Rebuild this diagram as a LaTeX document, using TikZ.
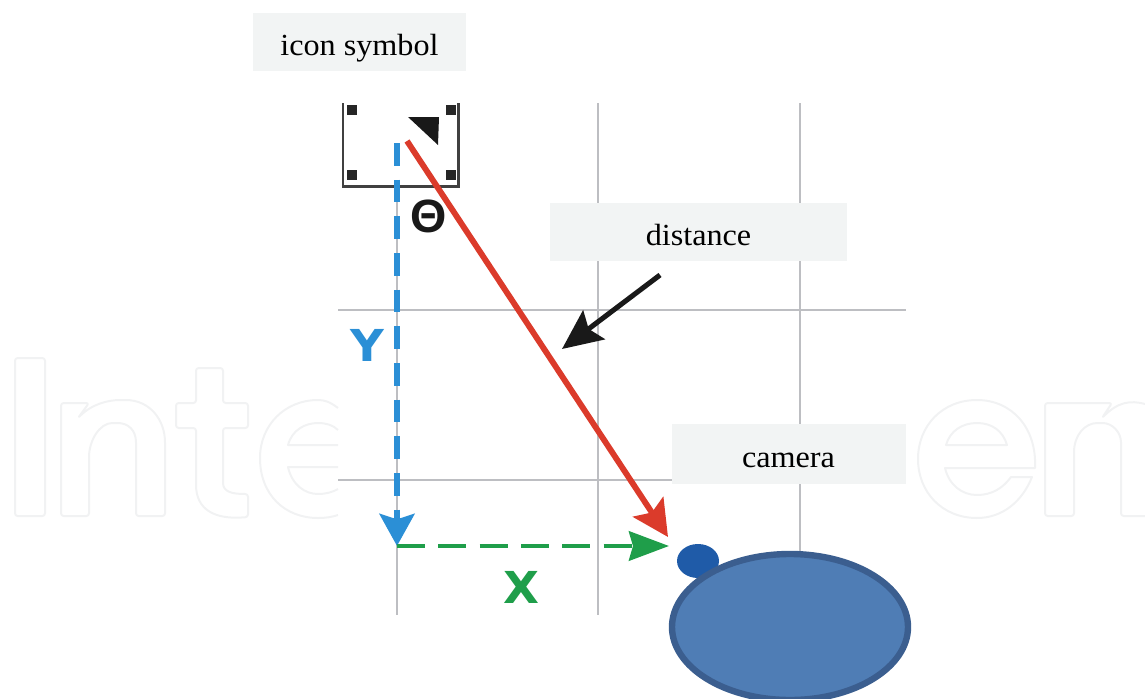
\documentclass[tikz,border=0pt]{standalone}
\usepackage{fontspec}
\setmainfont[FakeStretch=1.05]{Liberation Serif}
\newfontfamily\labsans[FakeStretch=1.06]{DejaVu Sans}
\newfontfamily\thetasans{Liberation Sans}
\usetikzlibrary{arrows.meta}
\definecolor{boxgray}{HTML}{F2F4F4}
\definecolor{gridgray}{HTML}{BDBEC2}
\definecolor{wmgray}{HTML}{F1F2F3}
\definecolor{bluedash}{HTML}{2B8FD6}
\definecolor{greendash}{HTML}{1F9E4A}
\definecolor{redarrow}{HTML}{DB3B2B}
\definecolor{dotblue}{HTML}{1F5BA8}
\definecolor{ellfill}{HTML}{4F7DB5}
\definecolor{elledge}{HTML}{3B5E8F}
\tikzset{
  labelbox/.style={fill=boxgray,inner sep=0pt,font=\fontsize{23pt}{26pt}\selectfont,text=black,text height=20pt,text depth=0pt},
  gridline/.style={draw=gridgray,line width=1.6pt},
  wm/.style={draw=wmgray,line width=1.5pt,line join=round},
  cornermark/.style={fill=black!85,inner sep=0pt,minimum size=7.5pt},
  sym/.style={inner sep=0pt,font=\labsans\bfseries\fontsize{33pt}{35pt}\selectfont},
}
\begin{document}
\begin{tikzpicture}[x=0.75pt,y=-0.75pt]
\useasboundingbox (0,0) rectangle (1145,699);
% watermark fragments, left
\draw[wm,rounded corners=2pt] (15,358) rectangle (45,516);
\draw[wm,rounded corners=2pt] (61,403) -- (89,403) -- (78,418) .. controls (92,404) and (108,400) .. (123,400)
  .. controls (150,400) and (165,420) .. (165,445) -- (165,516) -- (136,516) -- (136,445)
  .. controls (136,430) and (128,423) .. (115,423) .. controls (100,423) and (89,440) .. (89,460)
  -- (89,516) -- (61,516) -- cycle;
\draw[wm,rounded corners=2pt] (196,368) -- (223,368) -- (223,403) -- (248,403) -- (248,428) -- (223,428) -- (223,480)
  .. controls (223,492) and (232,494) .. (248,494) -- (248,517)
  .. controls (215,520) and (196,510) .. (196,482) -- (196,428) -- (176,428) -- (176,403) -- (196,403) -- cycle;
\draw[wm] (338,408) .. controls (330,402) and (325,400) .. (318,400)
  .. controls (285,400) and (260,425) .. (260,458) .. controls (260,495) and (285,518) .. (318,518)
  .. controls (326,518) and (332,517) .. (338,515);
\draw[wm] (338,445) -- (288,445) .. controls (292,430) and (305,423) .. (318,423) .. controls (326,423) and (333,425) .. (338,430);
\draw[wm] (338,467) -- (288,467) .. controls (292,485) and (305,494) .. (318,494) .. controls (326,494) and (333,492) .. (338,489);
% watermark fragments, right
\draw[wm] (1035,468) -- (945,468) .. controls (949,485) and (962,495) .. (977,495)
  .. controls (992,495) and (1003,488) .. (1011,477) -- (1032,477)
  .. controls (1022,502) and (1002,518) .. (977,518)
  .. controls (942,518) and (918,492) .. (918,459) .. controls (918,426) and (942,400) .. (977,400)
  .. controls (1012,400) and (1037,428) .. (1035,468) -- cycle;
\draw[wm] (946,445) -- (1007,445) .. controls (1003,431) and (992,423) .. (977,423) .. controls (962,423) and (950,431) .. (946,445) -- cycle;
\draw[wm,rounded corners=2pt] (1145,404) .. controls (1130,400) and (1118,402) .. (1102,418)
  -- (1112,403) -- (1045,403) -- (1045,516) -- (1074,516) -- (1074,455)
  .. controls (1074,435) and (1085,423) .. (1100,423) .. controls (1112,423) and (1121,432) .. (1121,445)
  -- (1121,516) -- (1145,516);
% grid
\draw[gridline] (338,310) -- (906,310);
\draw[gridline] (338,480) -- (890,480);
\draw[gridline] (397,186) -- (397,615);
\draw[gridline] (598,103) -- (598,615);
\draw[gridline] (800,103) -- (800,560);
% icon symbol
\coordinate (sqtl) at (343,103);
\coordinate (sqbl) at (343,186.5);
\coordinate (sqbr) at (458.5,186.5);
\coordinate (sqtr) at (458.5,103);
\draw[draw=black!75,line width=1.8pt] (sqtl) -- (sqbl) -- (sqbr) -- (sqtr);
\node[cornermark] (c1) at (352,110) {};
\node[cornermark] (c2) at (451,110) {};
\node[cornermark] (c3) at (352,175) {};
\node[cornermark] (c4) at (451,175) {};
\fill[black!90] (408,117) -- (439,117) -- (438,145) -- cycle;
% connectors
\coordinate (yfrom) at (397,143);
\coordinate (corner) at (397,546);
\coordinate (xto) at (669,546);
\coordinate (dfrom) at (407,141);
\coordinate (dto) at (668,537);
\coordinate (afrom) at (660,275);
\coordinate (ato) at (562,349);
\draw[bluedash,line width=4.8pt,dash pattern=on 17pt off 10.5pt,-{Stealth[length=24pt,width=26pt,inset=4pt,fill=bluedash]}] (yfrom) -- (corner);
\draw[greendash,line width=3.6pt,dash pattern=on 21pt off 10pt,-{Stealth[length=30pt,width=22pt,inset=3pt,fill=greendash]}] (corner) -- (xto);
\draw[redarrow,line width=4.4pt,-{Stealth[length=27pt,width=27pt,inset=5pt,fill=redarrow]}] (dfrom) -- (dto);
\draw[black!90,line width=3.8pt,-{Stealth[length=30pt,width=27pt,inset=5pt,fill=black!90]}] (afrom) -- (ato);
% symbols
\node[sym,text=black!90,font=\thetasans\bfseries\fontsize{35pt}{37pt}\selectfont] (theta) at (429,216) {Θ};
\node[sym,text=bluedash] (ylab) at (367,345) {Y};
\node[sym,text=greendash] (xlab) at (521,587) {X};
% dot and ellipse
\fill[dotblue] (698,561) ellipse [x radius=21,y radius=17];
\draw[draw=elledge,fill=ellfill,line width=4.8pt] (790,627) ellipse [x radius=118,y radius=73];
% labels
\node[labelbox,minimum width=160pt,minimum height=43.5pt] (icon) at (359.5,42) {icon symbol};
\node[labelbox,minimum width=222.75pt,minimum height=43.5pt] (dist) at (698.5,232) {distance};
\node[labelbox,minimum width=175.5pt,minimum height=45pt] (cam) at (788.5,454) {camera};
\end{tikzpicture}
\end{document}
